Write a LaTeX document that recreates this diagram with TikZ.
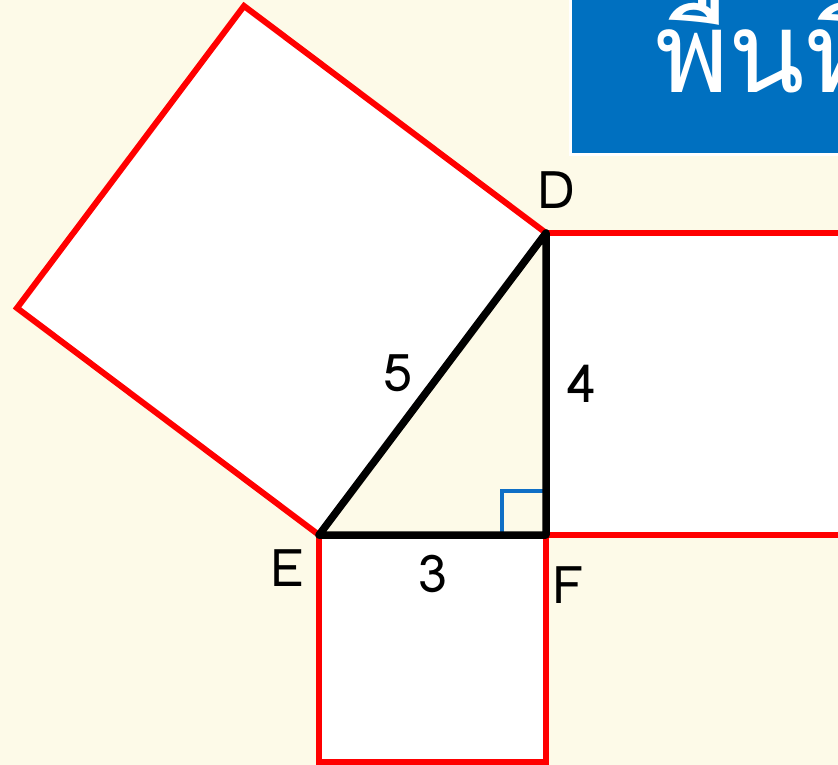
\documentclass[tikz,border=0pt]{standalone}
\usepackage{fontspec}
\setmainfont[Script=Thai]{Loma}
\usetikzlibrary{calc}
\definecolor{cream}{HTML}{FDFAE8}
\definecolor{titleblue}{HTML}{0070C0}
\definecolor{markblue}{HTML}{0F6FC6}
\tikzset{
  sq/.style={draw=red,line width=6pt,fill=white,line join=miter},
  lbl/.style={font=\fontsize{52}{60}\selectfont,inner sep=0pt}
}
\begin{document}
\begin{tikzpicture}[x=1pt,y=-1pt]
        \useasboundingbox (0,0) rectangle (838,765);
        \clip (0,0) rectangle (838,765);
        \fill[cream] (0,0) rectangle (838,765);
        \coordinate (E) at (319,535);
        \coordinate (F) at (546,535);
        \coordinate (D) at (546,233);
        \draw[sq] (E)--(F)--($(F)+(0,227)$)--($(E)+(0,227)$)--cycle;
        \draw[sq] (F)--(D)--($(D)+(302,0)$)--($(F)+(302,0)$)--cycle;
        \draw[sq] (E)--(D)--($(D)+(-302,-227)$)--($(E)+(-302,-227)$)--cycle;
        \draw[markblue,line width=3.5pt] ($(F)+(-44,0)$)|-($(F)+(0,-44)$);
        \draw[line width=7.5pt,line join=round,line cap=round] (E)--node[lbl,pos=0.5,xshift=-35pt,yshift=11pt](l5){5}(D)--node[lbl,pos=0.5,xshift=36pt](l4){4}(F)--node[lbl,pos=0.5,yshift=-39pt](l3){3}cycle;
        \node[lbl] (lD) at (556,190) {D};
        \node[lbl] (lE) at (287,568) {E};
        \node[lbl] (lF) at (568,585) {F};
        \node[draw=white,line width=3pt,fill=titleblue,minimum width=300pt,minimum height=165pt,anchor=north west,inner sep=0pt] (title) at (569,-12) {};
        \node[anchor=base west,text=white,font=\fontsize{112}{120}\selectfont,inner sep=0pt] (ttl) at (655,93) {พื้นที่};
\end{tikzpicture}
\end{document}
